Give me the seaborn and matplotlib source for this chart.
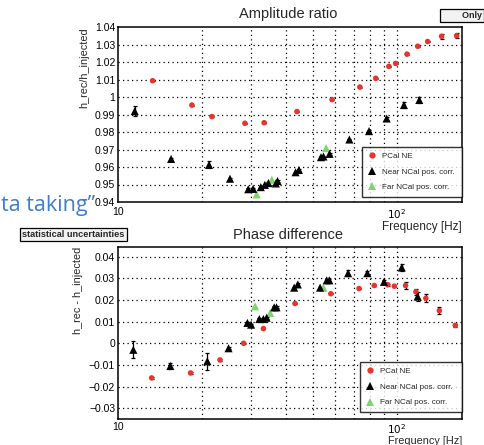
import matplotlib
matplotlib.use("Agg")
import matplotlib.pyplot as plt
from matplotlib.ticker import MultipleLocator, LogLocator, NullFormatter, FixedFormatter, FixedLocator
from matplotlib.lines import Line2D
import numpy as np
import pandas as pd
import seaborn as sns

# ---- Amplitude ratio (top) ----
amp_pcal_f = [13.3, 18.4, 21.7, 28.5, 33.4, 43.8, 58.5, 73.6, 83.9, 93.5, 98.9, 108.6, 118.6, 128.8, 144.5, 163.6]
amp_pcal_v = [1.0093, 0.9954, 0.9888, 0.9850, 0.9853, 0.9917, 0.9985, 1.0057, 1.0107, 1.0175, 1.0192, 1.0245, 1.0290, 1.0317, 1.0347, 1.0350]
amp_pcal_e = [0.0003, 0.0003, 0.0003, 0.0003, 0.0003, 0.0003, 0.0003, 0.0003, 0.0003, 0.0003, 0.0003, 0.0004, 0.0004, 0.0005, 0.0014, 0.0014]

amp_near_f = [11.48, 15.5, 21.2, 25.2, 29.3, 30.5, 32.5, 33.6, 34.6, 36.8, 37.3, 43.3, 44.5, 53.4, 54.5, 57.3, 67.5, 79.4, 91.8, 105.9, 120.2]
amp_near_v = [0.9919, 0.9646, 0.9612, 0.9533, 0.9473, 0.9475, 0.9485, 0.9498, 0.9508, 0.9506, 0.9520, 0.9570, 0.9583, 0.9656, 0.9660, 0.9675, 0.9757, 0.9805, 0.9877, 0.9954, 0.9983]
amp_near_e = [0.003, 0.0005, 0.002, 0.0005, 0.0005, 0.0005, 0.0005, 0.0005, 0.0005, 0.0005, 0.0005, 0.0005, 0.0005, 0.0005, 0.0005, 0.0005, 0.0005, 0.0005, 0.0006, 0.0015, 0.0015]

amp_far_f = [31.4, 35.6, 55.7]
amp_far_v = [0.9443, 0.9527, 0.9708]

# ---- Phase difference (bottom) ----
ph_pcal_f = [13.2, 18.2, 23.2, 28.2, 33.2, 43.1, 57.9, 73.1, 82.9, 92.6, 97.8, 107.3, 116.9, 126.9, 141.8, 161.8]
ph_pcal_v = [-0.0160, -0.0137, -0.0077, 0.0000, 0.0068, 0.0184, 0.0229, 0.0253, 0.0267, 0.0271, 0.0264, 0.0267, 0.0238, 0.0208, 0.0151, 0.0083]
ph_pcal_e = [0.0003, 0.0003, 0.0003, 0.0003, 0.0003, 0.0003, 0.0003, 0.0004, 0.0004, 0.0005, 0.0005, 0.0015, 0.0015, 0.0018, 0.0015, 0.0006]

ph_near_f = [11.35, 15.4, 20.9, 24.9, 29.1, 30.0, 32.1, 33.2, 34.1, 36.3, 37.0, 42.8, 44.1, 53.0, 56.0, 57.2, 66.8, 78.3, 89.8, 104.0, 118.6]
ph_near_v = [-0.0030, -0.0105, -0.0083, -0.0023, 0.0094, 0.0086, 0.0112, 0.0112, 0.0118, 0.0166, 0.0166, 0.0257, 0.0272, 0.0257, 0.0291, 0.0291, 0.0324, 0.0324, 0.0284, 0.0350, 0.0216]
ph_near_e = [0.004, 0.0015, 0.004, 0.0005, 0.0005, 0.0005, 0.0005, 0.0005, 0.0005, 0.0005, 0.0005, 0.0005, 0.0005, 0.0005, 0.0005, 0.0005, 0.0015, 0.001, 0.001, 0.0018, 0.002]

ph_far_f = [31.0, 35.1, 54.5]
ph_far_v = [0.0171, 0.0140, 0.0257]

labels = ["PCal NE", "Near NCal pos. corr.", "Far NCal pos. corr."]
colors = {"PCal NE": "#e8342c", "Near NCal pos. corr.": "#000000", "Far NCal pos. corr.": "#7fd46f"}
markers = {"PCal NE": "o", "Near NCal pos. corr.": "^", "Far NCal pos. corr.": "^"}
sizes = {"PCal NE": 16, "Near NCal pos. corr.": 34, "Far NCal pos. corr.": 34}

sns.set_style("white")
plt.rcParams['font.family'] = ['Liberation Sans', 'DejaVu Sans']

fig = plt.figure(figsize=(4.85, 4.45), dpi=100)
W, H = 485, 445


def ax_rect(l, t, r, b):
    return [l / W, 1 - b / H, (r - l) / W, (b - t) / H]


def make_df(groups):
    rows = []
    for lab, f, v in groups:
        for fi, vi in zip(f, v):
            rows.append({"freq": fi, "val": vi, "series": lab})
    return pd.DataFrame(rows)


def draw_panel(ax, groups, errs, ylim, ymaj, ylabel, legend_box, xpad, xlabelsize, xlabelpad):
    df = make_df(groups)
    # error bars first
    for lab, f, v, e in errs:
        ax.errorbar(f, v, yerr=e, fmt="none", ecolor="black", elinewidth=0.9,
                    capsize=1.2, capthick=0.9, zorder=2)
    for lab in [labels[0], labels[2], labels[1]]:
        sub = df[df["series"] == lab]
        sns.scatterplot(data=sub, x="freq", y="val", ax=ax, color=colors[lab],
                        marker=markers[lab], s=sizes[lab], edgecolor="none",
                        linewidth=0, legend=False, zorder=3)
    ax.set_xscale("log")
    ax.set_xlim(10, 171)
    ax.set_ylim(*ylim)
    ax.xaxis.set_major_locator(FixedLocator([10, 100]))
    ax.xaxis.set_major_formatter(FixedFormatter(["10", r"$10^2$"]))
    ax.xaxis.set_minor_locator(LogLocator(base=10, subs=np.arange(2, 10)))
    ax.xaxis.set_minor_formatter(NullFormatter())
    ax.yaxis.set_major_locator(MultipleLocator(ymaj))
    ax.yaxis.set_minor_locator(MultipleLocator(ymaj / 10))
    ax.yaxis.set_major_formatter(plt.FuncFormatter(
        lambda y, p: ("%g" % round(y, 4)).replace("-", "\u2212")))
    ax.tick_params(axis="both", which="both", direction="in", labelsize=7.5,
                   top=False, right=False, colors="black")
    ax.tick_params(axis="y", which="major", length=5, width=1.0, pad=2)
    ax.tick_params(axis="y", which="minor", length=2.5, width=0.7)
    ax.tick_params(axis="x", which="major", length=5, width=1.0, pad=xpad)
    ax.tick_params(axis="x", which="minor", length=3.5, width=0.8)
    # dotted grid at every decade subdivision and y major
    for xv in [20, 30, 40, 50, 60, 70, 80, 90, 100]:
        ax.axvline(xv, color="black", lw=0.9, ls=(0, (1, 2.6)), zorder=1)
    for yv in np.round(np.arange(np.ceil(ylim[0] / ymaj) * ymaj, ylim[1], ymaj), 4):
        if ylim[0] < yv < ylim[1]:
            ax.axhline(yv, color="black", lw=0.9, ls=(0, (1, 2.6)), zorder=1)
    for s in ax.spines.values():
        s.set_color("black")
        s.set_linewidth(1.1)
    ax.set_ylabel(ylabel, loc="top", fontsize=7.8, labelpad=4)
    ax.set_xlabel("Frequency [Hz]", loc="right", fontsize=xlabelsize, labelpad=xlabelpad)
    handles = [Line2D([], [], ls="none", marker=markers[l], color=colors[l],
                      markersize=4.5 if l == "PCal NE" else 6, markeredgewidth=0)
               for l in labels]
    leg = ax.legend(handles, labels, loc="lower left", bbox_to_anchor=legend_box,
                    mode="expand", fontsize=5.8, frameon=True, fancybox=False,
                    borderaxespad=0, handletextpad=0.6, labelspacing=1.0,
                    borderpad=0.7, handlelength=1.2)
    leg.get_frame().set_edgecolor("black")
    leg.get_frame().set_linewidth(1.0)
    leg.set_zorder(5)


ax1 = fig.add_axes(ax_rect(118, 27, 462, 202))
draw_panel(ax1,
           [(labels[0], amp_pcal_f, amp_pcal_v), (labels[1], amp_near_f, amp_near_v),
            (labels[2], amp_far_f, amp_far_v)],
           [(labels[0], amp_pcal_f, amp_pcal_v, amp_pcal_e),
            (labels[1], amp_near_f, amp_near_v, amp_near_e)],
           (0.94, 1.04), 0.01, "h_rec/h_injected",
           (0.709, 0.029, 0.291, 0.257), 3.5, 8.5, 0)

ax2 = fig.add_axes(ax_rect(118, 247, 462, 419))
draw_panel(ax2,
           [(labels[0], ph_pcal_f, ph_pcal_v), (labels[1], ph_near_f, ph_near_v),
            (labels[2], ph_far_f, ph_far_v)],
           [(labels[0], ph_pcal_f, ph_pcal_v, ph_pcal_e),
            (labels[1], ph_near_f, ph_near_v, ph_near_e)],
           (-0.035, 0.0445), 0.01, "h_rec - h_injected",
           (0.703, 0.04, 0.297, 0.215), 2, 7.8, 0)

fig.text(288 / W, 1 - 14 / H, "Amplitude ratio", ha="center", va="center", fontsize=10.5)
fig.text(288 / W, 1 - 235 / H, "Phase difference", ha="center", va="center", fontsize=10.5)

# pieces of the surrounding slide visible in the screenshot
fig.text(1 / W, 1 - 211 / H, "ta taking\u201d", ha="left", va="baseline",
         fontsize=15.5, color="#3f7ec4", family=["Open Sans", "DejaVu Sans"])
fig.text(22 / W, 1 - 234.5 / H, "statistical uncertainties", ha="left", va="center",
         fontsize=6.6, fontweight="bold",
         bbox=dict(boxstyle="square,pad=0.25", fc="#f2f2f2", ec="black", lw=0.9))
fig.text(482 / W, 1 - 15.5 / H, "        Only", ha="right", va="center", fontsize=6.5,
         fontweight="bold",
         bbox=dict(boxstyle="square,pad=0.25", fc="#f2f2f2", ec="black", lw=0.9))

fig.savefig("out.png", dpi=100)
